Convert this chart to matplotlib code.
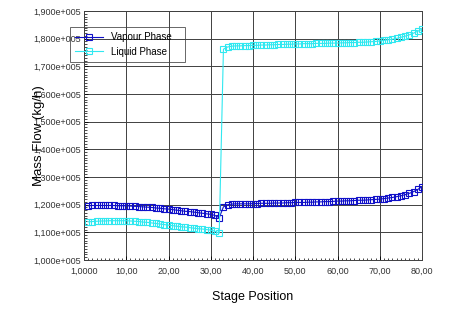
import matplotlib
matplotlib.use("Agg")
import matplotlib.pyplot as plt
from matplotlib.ticker import FuncFormatter, MultipleLocator

plt.rcParams['font.family'] = ['Liberation Sans', 'DejaVu Sans']

# Posicao dos estagios (1 a 80)
stages = list(range(1, 81))

# Vazao massica da fase vapor (kg/h)
vapour = [119600, 119700, 119700, 119700, 119700, 119700, 119700, 119600, 119600, 119600,
          119500, 119400, 119300, 119200, 119100, 119000, 118800, 118700, 118500, 118400,
          118200, 118000, 117800, 117600, 117500, 117300, 117100, 116900, 116700, 116500,
          116100, 115300, 119200, 120000, 120200, 120300, 120300, 120300, 120300, 120400,
          120400, 120500, 120500, 120500, 120600, 120600, 120600, 120700, 120700, 120800,
          120800, 120800, 120900, 120900, 121000, 121000, 121100, 121100, 121200, 121300,
          121300, 121400, 121400, 121500, 121600, 121600, 121700, 121800, 121900, 122000,
          122200, 122400, 122600, 122900, 123200, 123600, 124100, 124700, 125500, 126500]

# Vazao massica da fase liquida (kg/h)
liquid = [113800, 113900, 114000, 114100, 114100, 114200, 114200, 114200, 114200, 114200,
          114100, 114000, 113900, 113700, 113600, 113400, 113200, 113000, 112800, 112600,
          112400, 112200, 112000, 111900, 111700, 111500, 111300, 111200, 111000, 110800,
          110400, 109700, 176200, 177000, 177300, 177400, 177400, 177500, 177500, 177600,
          177600, 177700, 177700, 177800, 177800, 177900, 177900, 178000, 178000, 178100,
          178100, 178200, 178200, 178200, 178300, 178300, 178300, 178400, 178400, 178400,
          178500, 178500, 178600, 178600, 178700, 178700, 178800, 178900, 179000, 179200,
          179400, 179600, 179800, 180100, 180500, 180900, 181400, 182000, 182700, 183400]

x_labels = ["1,0000", "10,00", "20,00", "30,00", "40,00", "50,00", "60,00", "70,00", "80,00"]

fig = plt.figure(figsize=(4.5, 3.11), dpi=100)
ax = fig.add_axes([0.1867, 0.164, 0.7511, 0.8006])

ax.plot(stages, vapour, color='#1010c8', marker='s', markersize=4.2, markerfacecolor='none',
        markeredgewidth=0.8, linewidth=0.8, label='Vapour Phase', zorder=3)
ax.plot(stages, liquid, color='#30e8f0', marker='s', markersize=4.2, markerfacecolor='none',
        markeredgewidth=0.8, linewidth=0.8, label='Liquid Phase', zorder=3)

ax.set_xlim(0, 80)
ax.set_ylim(100000, 190000)
ax.set_xticks(range(0, 81, 10))
ax.set_xticklabels(x_labels)
ax.yaxis.set_major_locator(MultipleLocator(10000))
ax.yaxis.set_major_formatter(FuncFormatter(
    lambda v, p: ("%.3f" % (v / 1e5)).replace('.', ',') + "e+005"))
ax.xaxis.set_minor_locator(MultipleLocator(1))
ax.yaxis.set_minor_locator(MultipleLocator(1000))

ax.tick_params(which='major', direction='in', length=3, width=0.6, labelsize=6.5,
               labelcolor='#333333')
ax.tick_params(axis='x', which='major', pad=5)
ax.tick_params(axis='y', which='major', pad=2)
ax.tick_params(which='minor', direction='in', length=1.8, width=0.5)
ax.grid(True, which='major', color='#404040', linewidth=0.7)
for s in ax.spines.values():
    s.set_linewidth(0.7)
    s.set_color('#404040')

ax.set_ylabel('Mass Flow (kg/h)', fontsize=9.5)
ax.yaxis.set_label_coords(-0.115, 0.5)
ax.set_xlabel('Stage Position', fontsize=9)
ax.xaxis.set_label_coords(0.5, -0.125)

# legenda sem preenchimento, parcialmente fora dos eixos
leg = ax.legend(loc='upper left', bbox_to_anchor=(70 / 450, 1 - 61 / 311, 115 / 450, 34 / 311),
                bbox_transform=fig.transFigure, mode='expand',
                borderaxespad=0, fontsize=7, fancybox=False, frameon=True,
                edgecolor='#404040', handlelength=2.8, handletextpad=0.9,
                borderpad=0.55, labelspacing=0.45)
leg.get_frame().set_linewidth(0.7)
leg.get_frame().set_facecolor('none')

plt.savefig("out.png", dpi=100)
